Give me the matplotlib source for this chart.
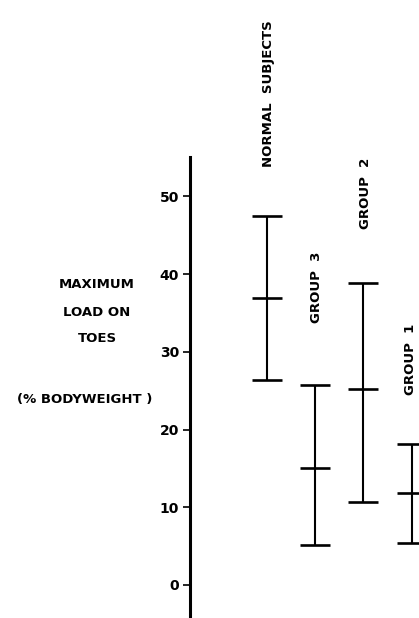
import matplotlib
matplotlib.use("Agg")
import matplotlib.pyplot as plt

# data (% bodyweight)
groups = ["NORMAL  SUBJECTS", "GROUP  3", "GROUP  2", "GROUP  1"]
means = [36.9, 15.0, 25.2, 11.8]
highs = [47.5, 25.7, 38.8, 18.1]
lows = [26.4, 5.1, 10.7, 5.4]
yticks = [0, 10, 20, 30, 40, 50]

plt.rcParams['font.family'] = ['DejaVu Sans']
plt.rcParams['font.weight'] = 'bold'

W, H = 419, 618
fig = plt.figure(figsize=(W / 100, H / 100), dpi=100)
ax = fig.add_axes([190 / W, 0, 1 - 190 / W, (H - 157) / H])

x = list(range(1, len(groups) + 1))
lo_err = [m - l for m, l in zip(means, lows)]
hi_err = [h - m for m, h in zip(means, highs)]
ax.errorbar(x, means, yerr=[lo_err, hi_err], fmt='_', color='black',
            markersize=22, markeredgewidth=1.9, elinewidth=1.5,
            capsize=11, capthick=2.0, clip_on=False)

# group names written upright above each bar
label_pad = [6.3, 8.0, 7.0, 6.4]
label_dx = [0.04, 0.04, 0.04, -0.02]
for xi, h, name, pad, dx in zip(x, highs, groups, label_pad, label_dx):
    ax.text(xi + dx, h + pad, name, rotation=90, ha='center', va='bottom',
            fontsize=9.5, fontweight='bold', clip_on=False)

ax.set_xlim(-0.587, 4.151)
ax.set_ylim(-4.25, 55.08)
ax.set_yticks(yticks)
ax.set_xticks([])
for s in ['top', 'right', 'bottom']:
    ax.spines[s].set_visible(False)
ax.spines['left'].set_linewidth(2.2)
ax.tick_params(axis='y', direction='out', length=5, width=1.2, pad=3,
               labelsize=10)
for t in ax.get_yticklabels():
    t.set_fontweight('bold')

# axis title, set as separate lines like the original
fig.text(97 / W, 1 - 285 / H, "MAXIMUM", ha='center', va='center', fontsize=9.5)
fig.text(97 / W, 1 - 312 / H, "LOAD ON", ha='center', va='center', fontsize=9.5)
fig.text(97 / W, 1 - 338 / H, "TOES", ha='center', va='center', fontsize=9.5)
fig.text(85 / W, 1 - 399 / H, "(% BODYWEIGHT )", ha='center', va='center', fontsize=9.5)

fig.savefig("out.png", dpi=100)
